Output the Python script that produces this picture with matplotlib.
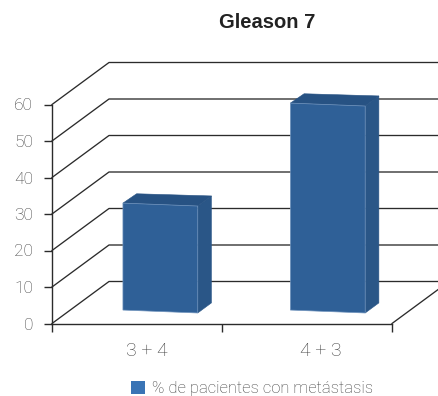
import matplotlib
matplotlib.use('Agg')
import matplotlib.pyplot as plt
from matplotlib.patches import Polygon, Patch

categories = ['3 + 4', '4 + 3']
values = [29.3, 56.7]
y_ticks = [0, 10, 20, 30, 40, 50, 60]
legend_label = '% de pacientes con metástasis'
title = 'Gleason 7'

W, H = 439, 396
# depth offset of the back wall, in data units
DX = 57 / 170
DY = 42 / 3.65
LINE = '#2b2b2b'
GREY = '#3f3f3f'
LIGHT = ['Roboto', 'Liberation Sans', 'DejaVu Sans']

plt.rcParams['font.family'] = ['Liberation Sans', 'DejaVu Sans']


# Project a point in the chart to the 2D axes, depth 0 is front, 1 is back wall
def proj(x, y, depth):
    return x + depth * DX, y + depth * DY


# Draw a box with a front, a side and a top face
def draw_bar(ax, left, width, value):
    d0, d1 = 0.32, 0.56
    skew = 0.8
    right = left + width
    front = [proj(left, 0, d0), proj(right, -skew, d0),
             proj(right, value - skew, d0), proj(left, value, d0)]
    side = [proj(right, -skew, d0), proj(right, -skew, d1),
            proj(right, value - skew, d1), proj(right, value - skew, d0)]
    top = [proj(left, value, d0), proj(right, value - skew, d0),
           proj(right, value - skew, d1), proj(left, value - 0.2, d1)]
    ax.add_patch(Polygon(side, closed=True, fc='#2a5687', ec='#2a5687', lw=0.4, zorder=3, clip_on=False))
    ax.add_patch(Polygon(top, closed=True, fc='#275283', ec='#275283', lw=0.4, zorder=3, clip_on=False))
    ax.add_patch(Polygon(front, closed=True, fc='#2f6097', ec='#6f93bd', lw=0.5, zorder=4, clip_on=False))


def main():
    fig = plt.figure(figsize=(W / 100, H / 100), dpi=100)
    # axes box is the front plane of the chart
    ax = fig.add_axes([52 / W, 1 - 323.5 / H, 340 / W, 219 / H])
    ax.set_xlim(0, 2)
    ax.set_ylim(0, 60)
    ax.patch.set_alpha(0)

    # Wall and floor lines
    for v in y_ticks:
        xs = [0, DX, 2 + DX]
        ys = [v, v + DY, v + DY]
        ax.plot(xs, ys, color=LINE, lw=0.95, clip_on=False, zorder=1)
    ax.plot([2, 2 + DX], [0, DY], color=LINE, lw=0.95, clip_on=False, zorder=1)

    # Bars
    lefts = [0.31, 1.295]
    for left, value in zip(lefts, values):
        draw_bar(ax, left, 0.44, value)

    # Axes
    for s in ['top', 'right']:
        ax.spines[s].set_visible(False)
    for s in ['left', 'bottom']:
        ax.spines[s].set_color(LINE)
        ax.spines[s].set_linewidth(1.0)
    ax.set_yticks(y_ticks)
    ax.set_yticklabels([str(v) for v in y_ticks], fontsize=12.5, color=GREY, family=LIGHT, fontweight='light')
    ax.tick_params(axis='y', length=5.5, width=1.0, color=LINE, pad=8)
    ax.set_xticks([0, 1, 2])
    ax.set_xticklabels([])
    ax.tick_params(axis='x', which='major', length=5.5, width=1.0, color=LINE)
    ax.set_xticks([0.56, 1.58], minor=True)
    ax.set_xticklabels(categories, minor=True, fontsize=14, color=GREY, family=LIGHT, fontweight='light')
    ax.tick_params(axis='x', which='minor', length=0, pad=13)

    fig.text(267 / W, 1 - 22 / H, title, ha='center', va='center', fontsize=14.5, fontweight='bold', color='#222222')

    handle = Patch(fc='#3a74b5', ec='none')
    leg = fig.legend([handle], [legend_label], loc='center', bbox_to_anchor=(252 / W, 1 - 388.5 / H),
                     frameon=False, handlelength=0.85, handleheight=0.85, fontsize=12,
                     handletextpad=0.4, borderpad=0, borderaxespad=0)
    for t in leg.get_texts():
        t.set_color(GREY)
        t.set_family(LIGHT)
        t.set_fontweight('light')

    fig.savefig('out.png', dpi=100)


if __name__ == '__main__':
    main()
